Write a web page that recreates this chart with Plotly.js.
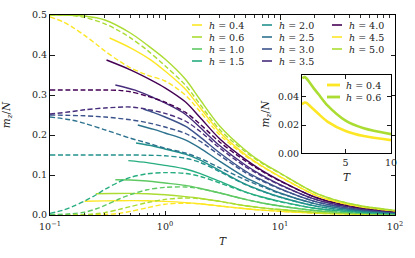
<!DOCTYPE html>
<html><head><meta charset="utf-8">
<script src="https://cdn.plot.ly/plotly-3.0.1.min.js"></script>
<style>html,body{margin:0;padding:0;background:#fff}#plot{width:415px;height:258px}</style>
</head><body><div id="plot"></div>
<script>
// field values and their colours (legend order)
const hValues = [0.4, 0.6, 1.0, 1.5, 2.0, 2.5, 3.0, 3.5, 4.0, 4.5, 5.0];
const hColors = ['#fde725','#aadc32','#5ec962','#27ad81','#21918c','#2c728e','#3b528b','#472d7b','#440154','#fde725','#aadc32'];

// solid curves (T, m_z/N)
const solidT_04 = [0.2,0.3,0.5,0.7,1,1.5,2,3,5,7,10,20,30,50,100];
const solidM_04 = [0.0345,0.0353,0.036,0.0357,0.034,0.031,0.028,0.0225,0.0158,0.0122,0.0093,0.0046,0.0031,0.0019,0.0009];
const solidT_06 = [0.25,0.35,0.5,0.7,1,1.5,2,3,5,7,10,20,30,50,100];
const solidM_06 = [0.053,0.0537,0.054,0.053,0.0505,0.046,0.042,0.034,0.0232,0.0178,0.0136,0.0068,0.0046,0.0028,0.0014];
const solidT_10 = [0.37,0.5,0.7,1,1.5,2,3,5,7,10,20,30,50,100];
const solidM_10 = [0.088,0.0875,0.085,0.08,0.074,0.067,0.055,0.039,0.03,0.0225,0.0113,0.0077,0.0046,0.0023];
const solidT_15 = [0.48,0.7,1,1.5,2,3,5,7,10,20,30,50,100];
const solidM_15 = [0.136,0.131,0.124,0.115,0.104,0.084,0.058,0.045,0.034,0.017,0.0115,0.0069,0.0035];
const solidT_20 = [0.56,0.8,1,1.5,2,3,5,7,10,20,30,50,100];
const solidM_20 = [0.18,0.172,0.165,0.152,0.138,0.111,0.077,0.06,0.045,0.0227,0.0153,0.0092,0.0046];
const solidT_25 = [0.58,0.8,1,1.5,2,3,5,7,10,20,30,50,100];
const solidM_25 = [0.225,0.214,0.205,0.188,0.168,0.134,0.094,0.074,0.055,0.0283,0.019,0.0115,0.0058];
const solidT_30 = [0.65,0.8,1,1.5,2,3,5,7,10,20,30,50,100];
const solidM_30 = [0.265,0.256,0.245,0.222,0.196,0.155,0.11,0.087,0.066,0.034,0.0229,0.0138,0.0069];
const solidT_35 = [0.37,0.55,0.8,1,1.5,2,3,5,7,10,20,30,50,100];
const solidM_35 = [0.325,0.312,0.293,0.28,0.252,0.22,0.173,0.125,0.099,0.076,0.0395,0.0267,0.0161,0.0081];
const solidT_40 = [0.31,0.5,0.75,1,1.5,2,3,5,7,10,20,30,50,100];
const solidM_40 = [0.3875,0.363,0.338,0.318,0.283,0.245,0.19,0.139,0.111,0.086,0.045,0.0305,0.0184,0.0092];
const solidT_45 = [0.33,0.5,0.75,1,1.5,2,3,5,7,10,20,30,50,100];
const solidM_45 = [0.4425,0.418,0.388,0.36,0.315,0.27,0.207,0.151,0.122,0.096,0.0505,0.034,0.0207,0.0104];
const solidT_50 = [0.1,0.15,0.2,0.3,0.5,0.7,1,1.5,2,3,5,7,10,20,30,50,100];
const solidM_50 = [0.5,0.4995,0.4975,0.4875,0.455,0.425,0.39,0.34,0.29,0.222,0.162,0.131,0.105,0.056,0.038,0.023,0.0115];

// dashed curves (T, m_z/N)
const dashT_04 = [0.1,0.2,0.3,0.4,0.5,0.7,1,1.5,2,3,5,7,10,20,30,50,100];
const dashM_04 = [0,0.0003,0.0015,0.004,0.009,0.018,0.027,0.0295,0.028,0.0225,0.0158,0.0122,0.0093,0.0046,0.0031,0.0019,0.0009];
const dashT_06 = [0.1,0.2,0.25,0.3,0.4,0.5,0.7,1,1.5,2,3,5,7,10,20,30,50,100];
const dashM_06 = [0,0.001,0.003,0.006,0.014,0.021,0.031,0.039,0.0425,0.041,0.034,0.0232,0.0178,0.0136,0.0068,0.0046,0.0028,0.0014];
const dashT_10 = [0.1,0.15,0.2,0.25,0.3,0.4,0.5,0.7,1,1.5,2,3,5,7,10,20,30,50,100];
const dashM_10 = [0.001,0.003,0.007,0.015,0.024,0.04,0.051,0.063,0.069,0.07,0.066,0.055,0.039,0.03,0.0225,0.0113,0.0077,0.0046,0.0023];
const dashT_15 = [0.1,0.13,0.16,0.2,0.25,0.3,0.4,0.5,0.7,1,1.5,2,3,5,7,10,20,30,50,100];
const dashM_15 = [0.004,0.012,0.022,0.035,0.05,0.064,0.083,0.094,0.103,0.106,0.104,0.097,0.08,0.057,0.044,0.033,0.017,0.0115,0.0069,0.0035];
const dashT_20 = [0.1,0.3,0.5,0.7,1,1.5,2,3,5,7,10,20,30,50,100];
const dashM_20 = [0.15,0.15,0.15,0.1495,0.148,0.142,0.132,0.108,0.076,0.059,0.0445,0.0227,0.0153,0.0092,0.0046];
const dashT_25 = [0.1,0.15,0.2,0.3,0.5,0.7,1,1.5,2,3,5,7,10,20,30,50,100];
const dashM_25 = [0.245,0.238,0.229,0.213,0.192,0.18,0.167,0.155,0.142,0.118,0.088,0.071,0.054,0.0283,0.019,0.0115,0.0058];
const dashT_30 = [0.1,0.2,0.3,0.5,0.7,1,1.5,2,3,5,7,10,20,30,50,100];
const dashM_30 = [0.25,0.248,0.245,0.238,0.231,0.22,0.204,0.185,0.149,0.106,0.085,0.065,0.034,0.0229,0.0138,0.0069];
const dashT_35 = [0.1,0.15,0.2,0.3,0.5,0.7,1,1.5,2,3,5,7,10,20,30,50,100];
const dashM_35 = [0.2525,0.258,0.263,0.2675,0.27,0.264,0.254,0.235,0.21,0.167,0.121,0.097,0.075,0.0395,0.0267,0.0161,0.0081];
const dashT_40 = [0.1,0.2,0.3,0.4,0.5,0.7,1,1.5,2,3,5,7,10,20,30,50,100];
const dashM_40 = [0.3125,0.3125,0.3125,0.3115,0.308,0.297,0.282,0.257,0.228,0.182,0.135,0.109,0.085,0.045,0.0305,0.0184,0.0092];
const dashT_45 = [0.1,0.13,0.16,0.2,0.25,0.3,0.4,0.5,0.7,1,1.5,2,3,5,7,10,20,30,50,100];
const dashM_45 = [0.495,0.483,0.468,0.449,0.428,0.41,0.385,0.368,0.35,0.335,0.3,0.26,0.2,0.148,0.121,0.095,0.0505,0.034,0.0207,0.0104];
const dashT_50 = [0.1,0.15,0.2,0.3,0.4,0.5,0.7,1,1.5,2,3,5,7,10,20,30,50,100];
const dashM_50 = [0.5,0.499,0.494,0.478,0.46,0.443,0.412,0.373,0.325,0.278,0.213,0.158,0.129,0.104,0.056,0.038,0.023,0.0115];

// tick labels
const xTickVals = [0.1, 1, 10, 100];
const xTickText = ['10<sup>−1</sup>','10<sup>0</sup>','10<sup>1</sup>','10<sup>2</sup>'];
const insetXTicks = [5, 10];
const insetYTicks = [0, 0.02, 0.04];

const solidT = [solidT_04,solidT_06,solidT_10,solidT_15,solidT_20,solidT_25,solidT_30,solidT_35,solidT_40,solidT_45,solidT_50];
const solidM = [solidM_04,solidM_06,solidM_10,solidM_15,solidM_20,solidM_25,solidM_30,solidM_35,solidM_40,solidM_45,solidM_50];
const dashT = [dashT_04,dashT_06,dashT_10,dashT_15,dashT_20,dashT_25,dashT_30,dashT_35,dashT_40,dashT_45,dashT_50];
const dashM = [dashM_04,dashM_06,dashM_10,dashM_15,dashM_20,dashM_25,dashM_30,dashM_35,dashM_40,dashM_45,dashM_50];

const FONT = 'DejaVu Serif, Liberation Serif, serif';
const traces = [];
hValues.forEach((h, i) => {
  traces.push({x: dashT[i], y: dashM[i], type:'scatter', mode:'lines', hoverinfo:'skip',
    line:{color:hColors[i], width:1.4, dash:'5px,2.6px', shape:'spline', smoothing:0.9}, xaxis:'x', yaxis:'y'});
  traces.push({x: solidT[i], y: solidM[i], type:'scatter', mode:'lines', hoverinfo:'skip',
    line:{color:hColors[i], width:1.4, shape:'spline', smoothing:0.9}, xaxis:'x', yaxis:'y'});
});
// inset: h = 0.4 and h = 0.6, T <= 10
[0, 1].forEach(i => {
  const xs = [], ys = [];
  solidT[i].forEach((t, k) => { if (t <= 10) { xs.push(t); ys.push(solidM[i][k]); } });
  traces.push({x: xs, y: ys, type:'scatter', mode:'lines', hoverinfo:'skip',
    line:{color:hColors[i], width:2.6, shape:'spline', smoothing:0.8}, xaxis:'x2', yaxis:'y2'});
});

// plot area in pixels -> paper helpers (layout only)
const L = 50, R = 395, TOP = 15, BOT = 215;
const px = v => (v - L) / (R - L);
const py = v => (BOT - v) / (BOT - TOP);

const shapes = [], annotations = [];
hValues.forEach((h, i) => {
  const col = Math.floor(i / 4), row = i % 4;
  const x0 = 192 + 70 * col, yy = 25 + 12 * row;
  shapes.push({type:'line', xref:'paper', yref:'paper', x0:px(x0), x1:px(x0 + 10), y0:py(yy), y1:py(yy),
    line:{color:hColors[i], width:1.6}});
  annotations.push({xref:'paper', yref:'paper', x:px(x0 + 15), y:py(yy), xanchor:'left', yanchor:'middle',
    showarrow:false, text:'<i>h</i> = ' + h.toFixed(1), font:{family:FONT, size:9.5, color:'#222'}});
});
[0, 1].forEach(i => {
  const yy = 85 + 12 * i;
  shapes.push({type:'line', xref:'paper', yref:'paper', x0:px(327), x1:px(340), y0:py(yy), y1:py(yy),
    line:{color:hColors[i], width:2.8}});
  annotations.push({xref:'paper', yref:'paper', x:px(344), y:py(yy), xanchor:'left', yanchor:'middle',
    showarrow:false, text:'<i>h</i> = ' + hValues[i].toFixed(1), font:{family:FONT, size:9.5, color:'#222'}});
});

const minorX = [];
[0.1, 1, 10].forEach(d => { for (let k = 2; k <= 9; k++) minorX.push(+(k * d).toPrecision(3)); });

const axCommon = {ticks:'inside', tickcolor:'#000', tickwidth:0.9, showline:true, linecolor:'#000', linewidth:1,
  mirror:'allticks', showgrid:false, zeroline:false, tickfont:{family:FONT, size:9.5, color:'#222'}};

const layout = {
  width:415, height:258, margin:{l:L, r:415-R, t:TOP, b:258-BOT},
  paper_bgcolor:'#fff', plot_bgcolor:'rgba(0,0,0,0)', showlegend:false,
  font:{family:FONT, size:10, color:'#222'},
  xaxis: Object.assign({}, axCommon, {type:'log', range:[-1, 2], tickmode:'array', tickvals:xTickVals, ticktext:xTickText,
    ticklen:4.5, ticklabelstandoff:3,
    minor:{ticks:'inside', ticklen:2.5, tickmode:'array', tickvals:minorX, tickcolor:'#000', tickwidth:0.8, showgrid:false},
    title:{text:'<i>T</i>', font:{family:FONT, size:10.5, color:'#222'}, standoff:6}}),
  yaxis: Object.assign({}, axCommon, {range:[0, 0.5], dtick:0.1, tick0:0, tickformat:'.1f', ticklen:4.5,
    title:{text:'<i>m</i><sub><i>z</i></sub>/<i>N</i>', font:{family:FONT, size:10.5, color:'#222'}, standoff:23}}),
  xaxis2: Object.assign({}, axCommon, {domain:[px(302), px(391)], anchor:'y2', range:[0.2, 10], tickmode:'array', tickvals:insetXTicks,
    ticktext:insetXTicks.map(String), ticklen:4, title:{text:'<i>T</i>', font:{family:FONT, size:10.5, color:'#222'}, standoff:6}}),
  yaxis2: Object.assign({}, axCommon, {domain:[py(153.3), py(75)], anchor:'x2', range:[0, 0.0555], tickmode:'array', tickvals:insetYTicks,
    ticktext:insetYTicks.map(v => v.toFixed(2)), ticklen:4,
    title:{text:'<i>m</i><sub><i>z</i></sub>/<i>N</i>', font:{family:FONT, size:10.5, color:'#222'}, standoff:6}}),
  shapes: shapes, annotations: annotations
};
Plotly.newPlot('plot', traces, layout, {displayModeBar:false, staticPlot:true});
</script></body></html>
